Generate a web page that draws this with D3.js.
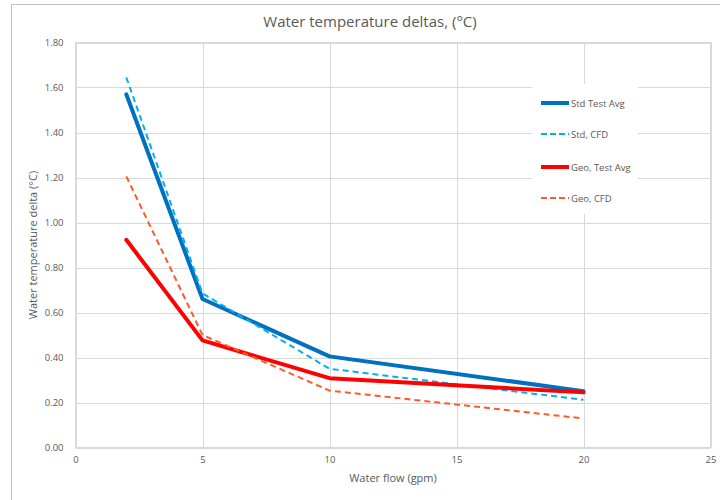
<!DOCTYPE html>
<html><head><meta charset="utf-8">
<script src="https://cdn.jsdelivr.net/npm/d3@7"></script>
<style>body{margin:0;background:#fff}svg{display:block}text{font-family:"Open Sans","Liberation Sans",sans-serif}</style>
</head><body>
<svg id="c" width="720" height="500"></svg>
<script>
const flows = [2, 5, 10, 20];
const stdTestAvg = [1.57, 0.66, 0.405, 0.25];
const stdCFD = [1.645, 0.685, 0.35, 0.212];
const geoTestAvg = [0.923, 0.476, 0.308, 0.245];
const geoCFD = [1.205, 0.50, 0.253, 0.129];
const xTicks = [0, 5, 10, 15, 20, 25];
const yTicks = [0, 0.2, 0.4, 0.6, 0.8, 1.0, 1.2, 1.4, 1.6, 1.8];
const seriesNames = ["Std Test Avg", "Std, CFD", "Geo, Test Avg", "Geo, CFD"];

const series = [
  {name: seriesNames[0], vals: stdTestAvg, color: "#0070C0", w: 4, dash: null},
  {name: seriesNames[1], vals: stdCFD, color: "#00B0F0", w: 2, dash: "6,4"},
  {name: seriesNames[2], vals: geoTestAvg, color: "#FF0000", w: 4, dash: null},
  {name: seriesNames[3], vals: geoCFD, color: "#FF5A28", w: 2, dash: "6,4"}
];

const svg = d3.select("#c");
const L = 75.5, R = 710.5, T = 42.5, B = 447.5;
const x = d3.scaleLinear().domain([0, 25]).range([L, R]);
const y = d3.scaleLinear().domain([0, 1.8]).range([B, T]);

// outer chart border (left & top visible)
svg.append("line").attr("x1", 11.5).attr("x2", 11.5).attr("y1", 4.5).attr("y2", 500).attr("stroke", "#c0c0c0");
svg.append("line").attr("x1", 11.5).attr("x2", 720).attr("y1", 4.5).attr("y2", 4.5).attr("stroke", "#c0c0c0");

// gridlines
const g = svg.append("g");
g.selectAll(".gy").data(yTicks).join("line")
  .attr("x1", L).attr("x2", R).attr("y1", d => Math.round(y(d)) + 0.5).attr("y2", d => Math.round(y(d)) + 0.5)
  .attr("stroke", "#d9d9d9").attr("stroke-width", 1);
g.selectAll(".gx").data(xTicks).join("line")
  .attr("y1", T).attr("y2", B).attr("x1", d => Math.round(x(d)) + 0.5).attr("x2", d => Math.round(x(d)) + 0.5)
  .attr("stroke", "#d9d9d9").attr("stroke-width", 1);

// axes (labels only)
const yAxis = svg.append("g").attr("transform", `translate(${L - 9},0)`)
  .call(d3.axisLeft(y).tickValues(yTicks).tickFormat(d3.format(".2f")).tickSize(0));
yAxis.select(".domain").remove();
yAxis.selectAll("text").attr("fill", "#595959").attr("font-size", 9.5).attr("dx", 0);
const xAxis = svg.append("g").attr("transform", `translate(0,${B + 6})`)
  .call(d3.axisBottom(x).tickValues(xTicks).tickFormat(d3.format("d")).tickSize(0));
xAxis.select(".domain").remove();
xAxis.selectAll("text").attr("fill", "#595959").attr("font-size", 9.5);

// title & axis titles
svg.append("text").attr("x", 370).attr("y", 27).attr("text-anchor", "middle")
  .attr("font-size", 15).attr("fill", "#595959").text("Water temperature deltas, (°C)");
svg.append("text").attr("x", 393).attr("y", 482).attr("text-anchor", "middle")
  .attr("font-size", 11).attr("fill", "#595959").text("Water flow (gpm)");
svg.append("text").attr("transform", "translate(37,245) rotate(-90)").attr("text-anchor", "middle")
  .attr("font-size", 11).attr("fill", "#595959").text("Water temperature delta (°C)");

// lines
const line = d3.line().x(d => x(d[0])).y(d => y(d[1]));
series.forEach(s => {
  svg.append("path").datum(flows.map((f, i) => [f, s.vals[i]]))
    .attr("d", line).attr("fill", "none").attr("stroke", s.color)
    .attr("stroke-width", s.w).attr("stroke-linejoin", "round").attr("stroke-linecap", s.dash ? "butt" : "round")
    .attr("stroke-dasharray", s.dash);
});

// legend
const lg = svg.append("g");
lg.append("rect").attr("x", 532).attr("y", 84).attr("width", 106).attr("height", 130).attr("fill", "#fff");
const ly = [103, 134, 167, 198];
series.forEach((s, i) => {
  lg.append("line").attr("x1", 541).attr("x2", 569).attr("y1", ly[i]).attr("y2", ly[i])
    .attr("stroke", s.color).attr("stroke-width", s.w).attr("stroke-dasharray", s.dash ? "6,3" : null);
  lg.append("text").attr("x", 571).attr("y", ly[i] + 3.5).attr("font-size", 9.5).attr("fill", "#595959").text(s.name);
});

// plot border drawn last
svg.append("rect").attr("x", L).attr("y", T).attr("width", R - L).attr("height", B - T)
  .attr("fill", "none").attr("stroke", "#d9d9d9");
</script>
</body></html>
